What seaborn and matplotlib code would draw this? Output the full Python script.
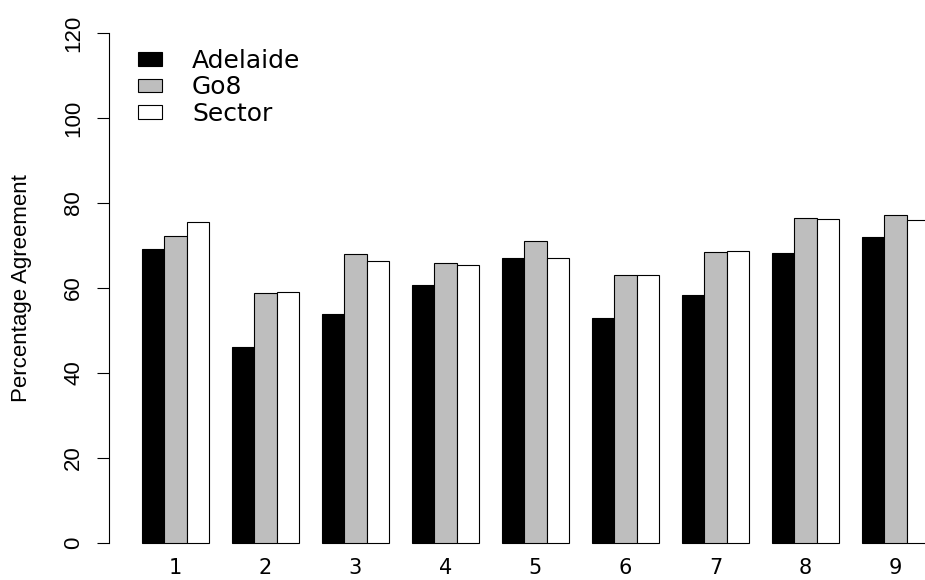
import numpy as np
import pandas as pd
import matplotlib
matplotlib.use("Agg")
import matplotlib.pyplot as plt
import seaborn as sns

groups = ["1", "2", "3", "4", "5", "6", "7", "8", "9"]
series = ["Adelaide", "Go8", "Sector"]
adelaide = [69.2, 46.2, 53.9, 60.7, 67.1, 52.9, 58.4, 68.2, 72.1]
go8 = [72.3, 58.8, 67.9, 66.0, 71.1, 63.1, 68.4, 76.4, 77.1]
sector = [75.5, 59.0, 66.4, 65.4, 67.0, 63.1, 68.6, 76.2, 75.9]
colors = ["#000000", "#BEBEBE", "#FFFFFF"]
y_ticks = [0, 20, 40, 60, 80, 100, 120]
y_label = "Percentage Agreement"

df = pd.DataFrame({
    "group": groups * 3,
    "series": [series[0]] * 9 + [series[1]] * 9 + [series[2]] * 9,
    "value": adelaide + go8 + sector,
})

sns.set_style("white")
plt.rcParams["font.family"] = ["Liberation Sans", "DejaVu Sans"]
plt.rcParams["text.color"] = "black"
plt.rcParams["axes.labelcolor"] = "black"

W, H = 925, 580
fig = plt.figure(figsize=(W / 100, H / 100), dpi=100)
left_px, right_px, top_px, bot_px = 109, 925, 33, 543
ax = fig.add_axes([left_px / W, 1 - bot_px / H, (right_px - left_px) / W, (bot_px - top_px) / H])

sns.barplot(data=df, x="group", y="value", hue="series", order=groups, hue_order=series,
            palette=colors, saturation=1, edgecolor="black", linewidth=0.8,
            width=0.75, gap=0, ax=ax)

for p in ax.patches:
    p.set_clip_on(False)

# group centre 0 at pixel 175.45, 90 px per unit
ax.set_xlim((left_px - 175.45) / 90, (right_px - 175.45) / 90)
ax.set_ylim(0, 120)
ax.set_yticks(y_ticks)
ax.set_yticklabels([str(v) for v in y_ticks], rotation=90, va="center")

for s in ["top", "right", "bottom"]:
    ax.spines[s].set_visible(False)
ax.spines["left"].set_linewidth(0.8)
ax.spines["left"].set_color("black")
ax.spines["left"].set_bounds(0, 120)

ax.tick_params(axis="y", which="major", left=True, length=9, width=0.8, color="black",
               labelsize=16, pad=9, labelcolor="black")
ax.tick_params(axis="x", which="major", bottom=False, length=0, pad=11,
               labelcolor="black")
for t in ax.get_xticklabels():
    t.set_fontfamily(["DejaVu Sans"])
    t.set_fontsize(15)
ax.set_xlabel("")
ax.set_ylabel(y_label, fontsize=16, color="black")
ax.yaxis.set_label_coords((32 - left_px) / (right_px - left_px), 0.5)

handles, labels = ax.get_legend_handles_labels()
leg = ax.legend(handles, labels, loc="upper left",
                bbox_to_anchor=((138 - left_px) / (right_px - left_px), (bot_px - 49) / (bot_px - top_px)),
                frameon=False, prop={"family": ["DejaVu Sans"], "size": 18},
                handlelength=0.96, handleheight=0.47,
                handletextpad=1.2, labelspacing=0.1, borderpad=0, borderaxespad=0)
for h in leg.legend_handles:
    h.set_edgecolor("black")
    h.set_linewidth(0.8)
for t in leg.get_texts():
    t.set_color("black")

fig.savefig("out.png", dpi=100, facecolor="white")
